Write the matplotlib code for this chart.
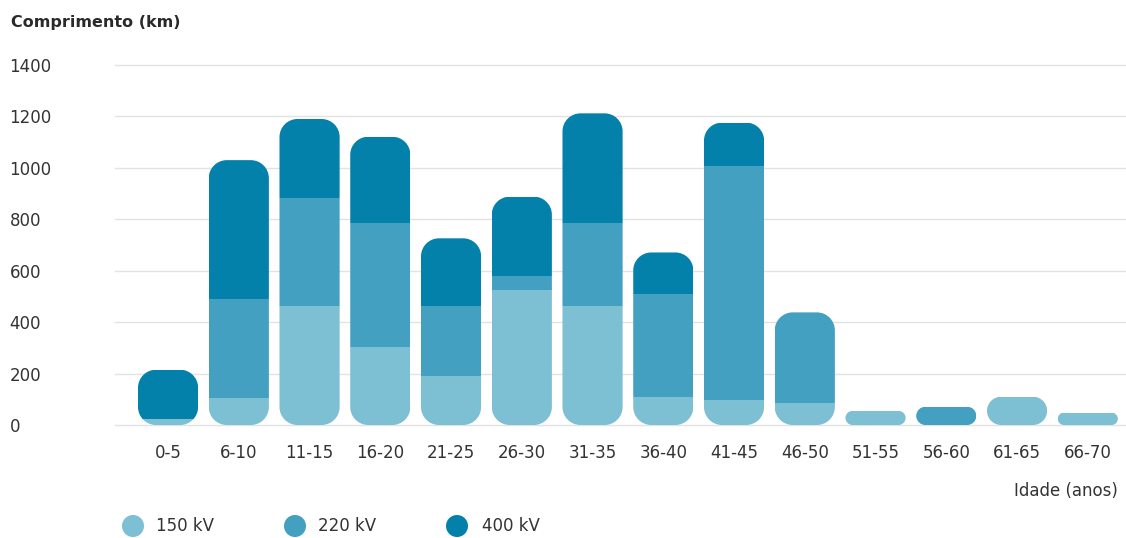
import matplotlib
matplotlib.use('Agg')
import matplotlib.pyplot as plt
from matplotlib.path import Path
from matplotlib.patches import PathPatch, Circle
import numpy as np

# data
categories = ['0-5', '6-10', '11-15', '16-20', '21-25', '26-30', '31-35',
              '36-40', '41-45', '46-50', '51-55', '56-60', '61-65', '66-70']
kv150 = [25, 104, 463, 305, 191, 525, 463, 108, 97, 87, 55, 0, 110, 48]
kv220 = [0, 385, 421, 479, 272, 56, 321, 400, 912, 351, 0, 71, 0, 0]
kv400 = [190, 541, 306, 337, 263, 307, 428, 163, 167, 0, 0, 0, 0, 0]
series_names = ['150 kV', '220 kV', '400 kV']
yticks = [0, 200, 400, 600, 800, 1000, 1200, 1400]

colors = ['#7dbfd3', '#43a0c1', '#0381aa']
txt = '#333333'

W, H = 1126, 538
fig = plt.figure(figsize=(W / 100, H / 100), dpi=100)
ax = fig.add_axes([115 / W, (H - 425) / H, 1 - 115 / W, 360 / H])
ax.set_xlim(-0.75, 13.54)
ax.set_ylim(0, 1400)
for s in ax.spines.values():
    s.set_visible(False)
ax.set_yticks(yticks)
ax.set_yticklabels([str(v) for v in yticks])
ax.tick_params(axis='y', length=0, pad=76, labelsize=12, labelcolor=txt)
for lab in ax.get_yticklabels():
    lab.set_ha('left')
ax.set_xticks(range(len(categories)))
ax.set_xticklabels(categories)
ax.tick_params(axis='x', length=0, pad=14, labelsize=12, labelcolor=txt)
for v in yticks:
    ax.axhline(v, color='#e2e2e2', lw=1, zorder=0, clip_on=False)

x = np.arange(len(categories))
width = 0.85
totals = np.array(kv150) + np.array(kv220) + np.array(kv400)

# pixels per data unit
p0 = ax.transData.transform((0, 0))
p1 = ax.transData.transform((1, 1))
sx, sy = p1[0] - p0[0], p1[1] - p0[1]


def rounded_path(x0, x1, y0, y1, r_px=18):
    # rounded rectangle, corners are circular in pixels
    h_px = (y1 - y0) * sy
    w_px = (x1 - x0) * sx
    r = min(r_px, h_px / 2, w_px / 2)
    rx, ry = r / sx, r / sy
    k = 0.5523
    verts = [(x0 + rx, y0), (x1 - rx, y0),
             (x1 - rx + k * rx, y0), (x1, y0 + ry - k * ry), (x1, y0 + ry),
             (x1, y1 - ry),
             (x1, y1 - ry + k * ry), (x1 - rx + k * rx, y1), (x1 - rx, y1),
             (x0 + rx, y1),
             (x0 + rx - k * rx, y1), (x0, y1 - ry + k * ry), (x0, y1 - ry),
             (x0, y0 + ry),
             (x0, y0 + ry - k * ry), (x0 + rx - k * rx, y0), (x0 + rx, y0),
             (x0 + rx, y0)]
    codes = [Path.MOVETO, Path.LINETO,
             Path.CURVE4, Path.CURVE4, Path.CURVE4,
             Path.LINETO,
             Path.CURVE4, Path.CURVE4, Path.CURVE4,
             Path.LINETO,
             Path.CURVE4, Path.CURVE4, Path.CURVE4,
             Path.LINETO,
             Path.CURVE4, Path.CURVE4, Path.CURVE4,
             Path.CLOSEPOLY]
    return Path(verts, codes)


bottom = np.zeros(len(categories))
containers = []
for vals, c in zip([kv150, kv220, kv400], colors):
    bc = ax.bar(x, vals, width, bottom=bottom, color=c, lw=0, zorder=2)
    containers.append(bc)
    bottom = bottom + np.array(vals)

for i in range(len(categories)):
    clip = PathPatch(rounded_path(x[i] - width / 2, x[i] + width / 2, 0, totals[i]),
                     transform=ax.transData, fc='none', ec='none')
    ax.add_patch(clip)
    for bc in containers:
        bc[i].set_clip_path(clip)

# texts and legend in pixel coordinates
ov = fig.add_axes([0, 0, 1, 1])
ov.set_xlim(0, W)
ov.set_ylim(H, 0)
ov.axis('off')
ov.text(11, 22, 'Comprimento (km)', fontsize=11.5, fontweight='bold',
        color='#2a2a2a', va='center', ha='left')
ov.text(1118, 491, 'Idade (anos)', fontsize=12, color=txt, va='center', ha='right')
for cx, tx, c, name in zip([133, 295, 457], [156, 318, 482], colors, series_names):
    ov.add_patch(Circle((cx, 526), 11, color=c, lw=0))
    ov.text(tx, 526, name, fontsize=12, color=txt, va='center', ha='left')

fig.savefig('out.png', dpi=100)
